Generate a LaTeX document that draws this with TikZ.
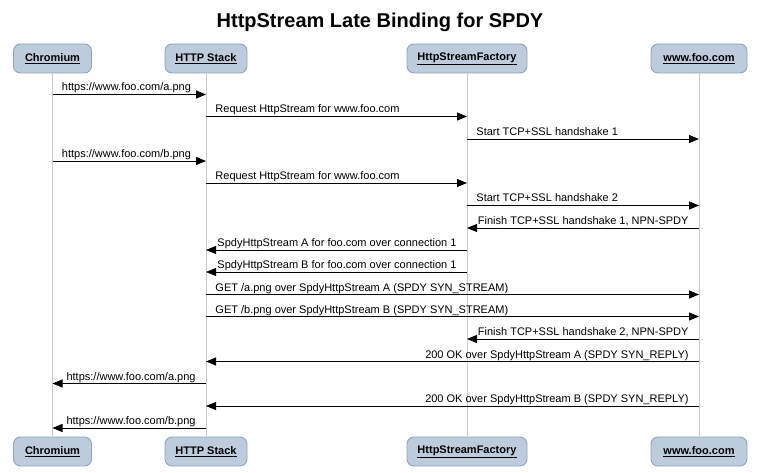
\documentclass[tikz,border=0pt]{standalone}
\usepackage{fontspec}
\setmainfont{Liberation Sans}
\usetikzlibrary{arrows.meta}
\definecolor{afill}{HTML}{BCCCDC}
\definecolor{adraw}{HTML}{8FA2C2}
\definecolor{lline}{HTML}{CCCCCC}
\begin{document}
\begin{tikzpicture}[x=1pt,y=-1pt,
  actor/.style={draw=adraw, fill=afill, rounded corners=7pt, line width=0.9pt,
    minimum height=29pt, inner sep=0pt, font=\bfseries\fontsize{11}{13}\selectfont},
  life/.style={draw=lline, line width=0.9pt},
  msg/.style={-{Triangle[length=10pt,width=8pt]}, line width=0.9pt},
  lblr/.style={pos=0, anchor=base west, inner sep=0pt, xshift=9pt, yshift=3.5pt, font=\fontsize{11}{13}\selectfont},
  lbll/.style={pos=0, anchor=base east, inner sep=0pt, xshift=-10pt, yshift=3.5pt, font=\fontsize{11}{13}\selectfont}]
\useasboundingbox (0,0) rectangle (758,473);
\node[font=\bfseries\fontsize{20}{24}\selectfont, inner sep=0pt] (title) at (380,22) {HttpStream Late Binding for SPDY};
% top actors
\node[actor, minimum width=78pt] (chT) at (52.5,58.5) {\underline{Chromium}};
\node[actor, minimum width=82pt] (htT) at (206,58.5) {\underline{HTTP Stack}};
\node[actor, minimum width=120pt] (sfT) at (467,58.5) {\underline{HttpStreamFactory}};
\node[actor, minimum width=96pt] (fooT) at (699,58.5) {\underline{www.foo.com}};
% bottom actors
\node[actor, minimum width=78pt] (chB) at (52.5,451.5) {\underline{Chromium}};
\node[actor, minimum width=82pt] (htB) at (206,451.5) {\underline{HTTP Stack}};
\node[actor, minimum width=120pt] (sfB) at (467,451.5) {\underline{HttpStreamFactory}};
\node[actor, minimum width=96pt] (fooB) at (699,451.5) {\underline{www.foo.com}};
% lifelines
\draw[life] (chT) -- (chB);
\draw[life] (htT) -- (htB);
\draw[life] (sfT) -- (sfB);
\draw[life] (fooT) -- (fooB);
% rows
\coordinate (r1) at (0,94.5);
\coordinate (r2) at (0,116.5);
\coordinate (r3) at (0,139);
\coordinate (r4) at (0,161);
\coordinate (r5) at (0,183);
\coordinate (r6) at (0,205.5);
\coordinate (r7) at (0,228);
\coordinate (r8) at (0,250);
\coordinate (r9) at (0,272);
\coordinate (r10) at (0,294.5);
\coordinate (r11) at (0,316.5);
\coordinate (r12) at (0,339);
\coordinate (r13) at (0,361.5);
\coordinate (r14) at (0,383.5);
\coordinate (r15) at (0,406);
\coordinate (r16) at (0,428);
% messages
\draw[msg] (chT.south |- r1) -- (htT.south |- r1) node[lblr] {https://www.foo.com/a.png};
\draw[msg] (htT.south |- r2) -- (sfT.south |- r2) node[lblr] {Request HttpStream for www.foo.com};
\draw[msg] (sfT.south |- r3) -- (fooT.south |- r3) node[lblr] {Start TCP+SSL handshake 1};
\draw[msg] (chT.south |- r4) -- (htT.south |- r4) node[lblr] {https://www.foo.com/b.png};
\draw[msg] (htT.south |- r5) -- (sfT.south |- r5) node[lblr] {Request HttpStream for www.foo.com};
\draw[msg] (sfT.south |- r6) -- (fooT.south |- r6) node[lblr] {Start TCP+SSL handshake 2};
\draw[msg] (fooT.south |- r7) -- (sfT.south |- r7) node[lbll] {Finish TCP+SSL handshake 1, NPN-SPDY};
\draw[msg] (sfT.south |- r8) -- (htT.south |- r8) node[lbll] {SpdyHttpStream A for foo.com over connection 1};
\draw[msg] (sfT.south |- r9) -- (htT.south |- r9) node[lbll] {SpdyHttpStream B for foo.com over connection 1};
\draw[msg] (htT.south |- r10) -- (fooT.south |- r10) node[lblr] {GET /a.png over SpdyHttpStream A (SPDY SYN\_STREAM)};
\draw[msg] (htT.south |- r11) -- (fooT.south |- r11) node[lblr] {GET /b.png over SpdyHttpStream B (SPDY SYN\_STREAM)};
\draw[msg] (fooT.south |- r12) -- (sfT.south |- r12) node[lbll] {Finish TCP+SSL handshake 2, NPN-SPDY};
\draw[msg] (fooT.south |- r13) -- (htT.south |- r13) node[lbll] {200 OK over SpdyHttpStream A (SPDY SYN\_REPLY)};
\draw[msg] (htT.south |- r14) -- (chT.south |- r14) node[lbll] {https://www.foo.com/a.png};
\draw[msg] (fooT.south |- r15) -- (htT.south |- r15) node[lbll] {200 OK over SpdyHttpStream B (SPDY SYN\_REPLY)};
\draw[msg] (htT.south |- r16) -- (chT.south |- r16) node[lbll] {https://www.foo.com/b.png};
\end{tikzpicture}
\end{document}
